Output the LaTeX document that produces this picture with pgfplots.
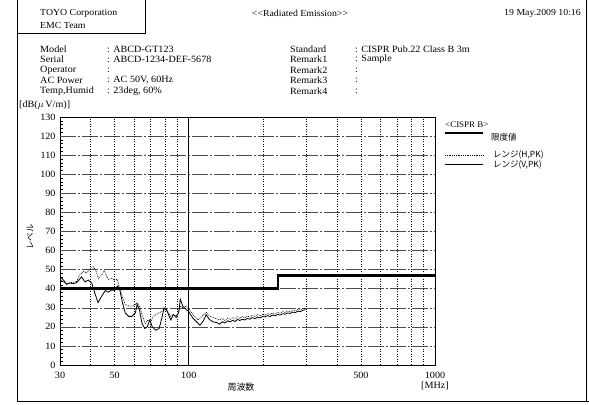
\documentclass[border=0pt]{standalone}
\usepackage{fontspec}
\setmainfont{Liberation Serif}
\newfontfamily\wide[FakeStretch=1.06]{Liberation Serif}
\newfontfamily\jp{Noto Sans CJK JP}
\usepackage{pgfplots}
\pgfplotsset{compat=1.18}
\begin{document}
\begin{tikzpicture}[font=\fontsize{8}{9}\selectfont]
\path[use as bounding box] (0,0) rectangle (589bp,405bp);
% page frame and header box
\draw[line width=0.7bp] (17bp,405bp) -- (17bp,4bp) -- (589bp,4bp);
\draw[line width=0.7bp] (586.5bp,405bp) -- (586.5bp,4bp);
\draw[line width=0.7bp] (17bp,372bp) -- (145bp,372bp) -- (145bp,405bp);
\begin{scope}[every node/.style={inner sep=0,font=\wide\fontsize{9.3}{10}\selectfont}]
\node[anchor=west] at (40bp,392bp) {TOYO Corporation};
\node[anchor=west] at (40bp,379.5bp) {EMC Team};
\node at (300bp,392bp) {<{}<Radiated Emission>{}>};
\node[anchor=east] at (581bp,392bp) {19 May.2009 10:16};
\end{scope}
% info block
\begin{scope}[every node/.style={inner sep=0,anchor=west,font=\wide\fontsize{9.6}{10}\selectfont}]
\foreach \y/\a/\b in {356/Model/{: ABCD-GT123},345.5/Serial/{: ABCD-1234-DEF-5678},335/Operator/{:},324.5/AC Power/{: AC 50V, 60Hz},314/{Temp,Humid}/{: 23deg, 60\%}}{
  \node at (40bp,\y bp) {\a};
  \node at (107bp,\y bp) {\b};
}
\foreach \y/\a/\b in {356/Standard/{: CISPR Pub.22 Class B 3m},345.5/Remark1/{: Sample},335/Remark2/{:},324.5/Remark3/{:},314/Remark4/{:}}{
  \node at (290bp,\y bp) {\a};
  \node at (355bp,\y bp) {\b};
}
\node at (19bp,300bp) {[dB($\mu$\,V/m)]};
\end{scope}
\begin{axis}[
  at={(60bp,40bp)}, anchor=south west,
  scale only axis, width=375bp, height=248bp,
  xmode=log, xmin=30, xmax=1000, ymin=0, ymax=130,
  xtick={30,50,100,500,1000}, xticklabels={30,50,100,500,1000},
  xminorticks=false,
  ytick={0,10,...,130},
  minor y tick num=4,
  ytick pos=left, xtick pos=bottom,
  tick align=inside,
  xtick style={draw=none},
  major tick length=4bp, minor tick length=2.5bp,
  every tick/.style={line width=0.5bp, black},
  axis line style={line width=0.8bp},
  /pgf/number format/assume math mode=true,
  tick label style={font=\wide\fontsize{9.6}{10}\selectfont},
  yticklabel style={xshift=-1bp},
  xticklabel style={yshift=-4bp},
  clip=true,
]
\pgfplotsinvokeforeach{10,20,...,120}{
  \draw[black!70, line width=0.5bp, dash pattern=on 16bp off 2bp on 2bp off 2bp] (axis cs:30,#1) -- (axis cs:1000,#1);
}
\pgfplotsinvokeforeach{40,50,60,70,80,90,200,300,400,500,600,700,800,900}{
  \draw[black, line width=0.6bp, dash pattern=on 1bp off 1.5bp] (axis cs:#1,0) -- (axis cs:#1,130);
}
\draw[black, line width=0.7bp] (axis cs:100,0) -- (axis cs:100,130);
% limit
\addplot[black, line width=2.4bp] coordinates {(30,40) (230,40) (230,47) (1000,47)};
% H (dotted)
\addplot[black, line width=0.7bp, dash pattern=on 0.8bp off 1bp] coordinates {
(30,44.9)(31,43.5)(31.9,42.6)(33.4,43.2)(35.0,43.7)(36.1,47.3)(37.3,49.1)(38.5,48.2)
(39.8,50.4)(41.1,51.4)(42.0,49.1)(43.0,45.4)(44.4,47.3)(45.4,49.6)(46.4,46.4)(47.2,44.9)
(48.7,45.4)(50.0,44.5)(51.3,44.9)(52.0,41.8)(53.8,35.5)(55.2,31.8)(57.0,30.9)(58.8,30.9)
(60.7,31.8)(61.7,32.7)(63.0,30.9)(64.6,26.4)(66.6,21.8)(68.3,23.6)(70.1,22.7)(71.7,25.5)
(73.4,26.4)(75.8,27.3)(77.7,28.2)(79.4,29.1)(81.9,28.2)(84.6,25.5)(86.9,26.4)(89.2,24.5)
(92.4,30.9)(94.5,30.0)(97.5,30.9)(100.4,29.0)(104,26.5)(109,23.6)(113,25.5)(117.7,27.6)
(122,25.5)(128,24.5)(133.5,23.6)(137,24.4)(140,23.4)(144,24.6)(147,23.8)(151,24.9)
(154,24.1)(158,25.2)(161,24.4)(165,25.4)(169,24.8)(173,25.7)(177,25.1)(181,26.0)
(186,25.4)(190,26.4)(195,25.8)(200,26.7)(204,26.1)(209,27.0)(214,26.5)(219,27.3)
(224,26.8)(230,27.6)(235,27.2)(241,28.0)(246,27.5)(252,28.3)(258,27.9)(264,28.7)
(271,28.3)(277,29.1)(284,28.8)(291,29.6)(298,30.0)
};
% V (solid)
\addplot[black, line width=0.8bp] coordinates {
(30,46.4)(31,44.5)(31.9,42.3)(33,43.0)(34,42.6)(35,43.2)(35.8,44.5)(36.7,46.2)
(37.9,43.6)(39.1,44.5)(40.4,42.8)(41.6,37.5)(42.8,32.7)(44.4,36.3)(45.8,39.0)(47.2,38.2)
(48.7,39.4)(50.0,39.0)(51.3,41.4)(52.3,40.2)(53.8,32.7)(55.2,27.3)(57.0,25.5)(58.8,25.5)
(60.7,27.3)(61.7,31.8)(63.0,29.1)(64.6,21.8)(66.3,19.1)(67.8,20.0)(69.5,23.6)(71.1,20.0)
(73.4,18.2)(75.8,19.1)(77.7,24.5)(79.4,30.0)(81.2,29.1)(83.3,25.5)(84.6,23.6)(86.5,26.4)
(88.7,25.5)(91.0,27.3)(92.4,34.5)(94.5,30.9)(97.5,29.1)(99.6,28.2)(100.7,27.3)(104,24.5)
(107.5,22.7)(111,20.9)(114.5,23.0)(117.7,26.4)(121,24.0)(125,22.7)(130,22.2)(133.5,21.4)
(137,22.7)(140,22.0)(144,23.2)(147,22.6)(151,23.4)(154,22.8)(158,23.9)(161,23.3)
(165,24.0)(169,23.6)(173,24.4)(177,24.0)(181,24.8)(186,24.3)(190,25.1)(195,24.7)
(200,25.5)(204,25.2)(209,25.9)(214,25.4)(219,26.2)(224,25.8)(230,26.5)(235,26.2)
(241,26.9)(246,26.6)(252,27.3)(258,27.0)(264,27.7)(271,27.5)(277,28.2)(284,28.0)
(291,28.7)(298,29.0)
};
\end{axis}
% axis labels
\node[rotate=90,inner sep=0,font=\jp\fontsize{8.5}{9}\selectfont] at (30bp,168bp) {レベル};
\node[inner sep=0,font=\jp\fontsize{9}{10}\selectfont] at (241bp,18bp) {周波数};
\node[inner sep=0,font=\wide\fontsize{9.6}{10}\selectfont] at (435bp,19bp) {[MHz]};
% legend
\node[anchor=west,inner sep=0,font=\wide\fontsize{8.5}{9}\selectfont] at (445bp,280bp) {<CISPR B>};
\draw[black,line width=2.4bp] (445bp,272bp) -- (483bp,272bp);
\node[anchor=west,inner sep=0,font=\jp\fontsize{8.5}{9}\selectfont] at (491bp,268bp) {限度値};
\draw[black,line width=0.7bp,dash pattern=on 0.8bp off 1bp] (445bp,250bp) -- (483bp,250bp);
\node[anchor=west,inner sep=0,font=\jp\fontsize{8.5}{9}\selectfont] at (493bp,250bp) {レンジ(H,PK)};
\draw[black,line width=0.8bp] (445bp,240.5bp) -- (483bp,240.5bp);
\node[anchor=west,inner sep=0,font=\jp\fontsize{8.5}{9}\selectfont] at (493bp,240bp) {レンジ(V,PK)};
\end{tikzpicture}
\end{document}
